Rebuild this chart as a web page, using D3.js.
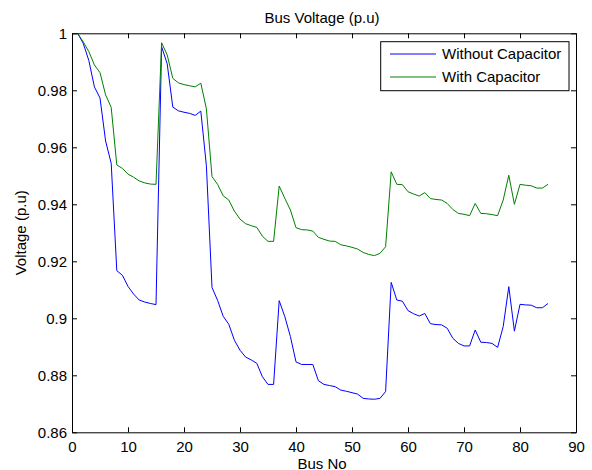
<!DOCTYPE html>
<html><head><meta charset="utf-8">
<script src="https://cdn.jsdelivr.net/npm/d3@7"></script>
<style>
body{margin:0;background:#fff;}
text{font-family:"Liberation Sans",Arial,sans-serif;}
</style></head>
<body>
<svg id="chart" width="592" height="470"></svg>
<script>
const buses = d3.range(1, 86);
const withoutCap = [
1.0000,0.9965,0.9905,0.9812,0.9773,0.9622,0.9544,0.9167,0.9151,0.9112,
0.9085,0.9064,0.9057,0.9052,0.9048,0.9953,0.9893,0.9741,0.9728,0.9723,
0.9719,0.9712,0.9727,0.9535,0.9108,0.9063,0.9007,0.8979,0.8923,0.8888,
0.8864,0.8854,0.8842,0.8795,0.8768,0.8768,0.9062,0.9006,0.8936,0.8847,
0.8838,0.8838,0.8838,0.8781,0.8768,0.8764,0.8760,0.8748,0.8744,0.8739,
0.8734,0.8719,0.8717,0.8716,0.8719,0.8743,0.9126,0.9064,0.9060,0.9027,
0.9016,0.9008,0.9017,0.8981,0.8978,0.8977,0.8965,0.8930,0.8912,0.8903,
0.8903,0.8959,0.8916,0.8915,0.8912,0.8898,0.8971,0.9111,0.8955,0.9049,
0.9047,0.9046,0.9037,0.9037,0.9052];
const withCap = [
1.0000,0.9970,0.9936,0.9889,0.9862,0.9784,0.9740,0.9538,0.9526,0.9506,
0.9495,0.9482,0.9475,0.9471,0.9470,0.9967,0.9924,0.9842,0.9826,0.9820,
0.9816,0.9812,0.9825,0.9735,0.9497,0.9470,0.9430,0.9415,0.9376,0.9348,
0.9332,0.9325,0.9319,0.9288,0.9270,0.9270,0.9464,0.9421,0.9380,0.9318,
0.9311,0.9310,0.9306,0.9284,0.9277,0.9271,0.9270,0.9258,0.9254,0.9249,
0.9243,0.9231,0.9224,0.9220,0.9228,0.9251,0.9514,0.9470,0.9469,0.9444,
0.9436,0.9429,0.9441,0.9420,0.9417,0.9415,0.9403,0.9382,0.9368,0.9365,
0.9360,0.9403,0.9368,0.9367,0.9364,0.9360,0.9415,0.9502,0.9400,0.9470,
0.9467,0.9465,0.9457,0.9457,0.9470];
const xTicks = [0,10,20,30,40,50,60,70,80,90];
const yTicks = [0.86,0.88,0.90,0.92,0.94,0.96,0.98,1.00];
const seriesNames = ["Without Capacitor","With Capacitor"];
const seriesColors = ["#0000ff","#008000"];

const svg = d3.select("#chart");
const L = 72, R = 576, T = 33.3, B = 432.3;
const x = d3.scaleLinear().domain([0,90]).range([L,R]);
const y = d3.scaleLinear().domain([0.86,1]).range([B,T]);
const fs = "15px";

// data lines
const line = d3.line().x((d,i)=>x(buses[i])).y(d=>y(d));
[withoutCap, withCap].forEach((s,k)=>{
  svg.append("path").datum(s).attr("d", line)
    .attr("fill","none").attr("stroke", seriesColors[k]).attr("stroke-width",1);
});

// axes
const fmt = d => String(+d.toFixed(2));
const gBottom = svg.append("g").attr("transform",`translate(0,${B})`)
  .call(d3.axisBottom(x).tickValues(xTicks).tickSizeInner(-5).tickSizeOuter(0).tickPadding(9));
const gTop = svg.append("g").attr("transform",`translate(0,${T})`)
  .call(d3.axisTop(x).tickValues(xTicks).tickSizeInner(-5).tickSizeOuter(0).tickFormat(""));
const gLeft = svg.append("g").attr("transform",`translate(${L},0)`)
  .call(d3.axisLeft(y).tickValues(yTicks).tickSizeInner(-5).tickSizeOuter(0).tickPadding(5).tickFormat(fmt));
const gRight = svg.append("g").attr("transform",`translate(${R},0)`)
  .call(d3.axisRight(y).tickValues(yTicks).tickSizeInner(-5).tickSizeOuter(0).tickFormat(""));
[gBottom,gTop,gLeft,gRight].forEach(g=>{
  g.selectAll("text").attr("font-size",fs).attr("font-family","Liberation Sans, Arial, sans-serif").attr("fill","#000");
  g.selectAll("line,path").attr("stroke","#000");
});

// titles
svg.append("text").attr("x",322).attr("y",23.3).attr("text-anchor","middle")
  .attr("font-size",fs).text("Bus Voltage (p.u)");
svg.append("text").attr("x",322).attr("y",468.5).attr("text-anchor","middle")
  .attr("font-size",fs).text("Bus No");
svg.append("text").attr("transform",`translate(26,${(T+B)/2}) rotate(-90)`)
  .attr("text-anchor","middle").attr("font-size",fs).text("Voltage (p.u)");

// legend
const lg = svg.append("g");
lg.append("rect").attr("x",380.7).attr("y",41.7).attr("width",188.3).attr("height",49)
  .attr("fill","#fff").attr("stroke","#000").attr("stroke-width",1);
seriesNames.forEach((n,k)=>{
  const yy = 54 + k*23;
  lg.append("line").attr("x1",390).attr("x2",436).attr("y1",yy).attr("y2",yy)
    .attr("stroke",seriesColors[k]).attr("stroke-width",1);
  lg.append("text").attr("x",442).attr("y",yy).attr("dy","0.35em")
    .attr("font-size",fs).text(n);
});
</script>
</body></html>
